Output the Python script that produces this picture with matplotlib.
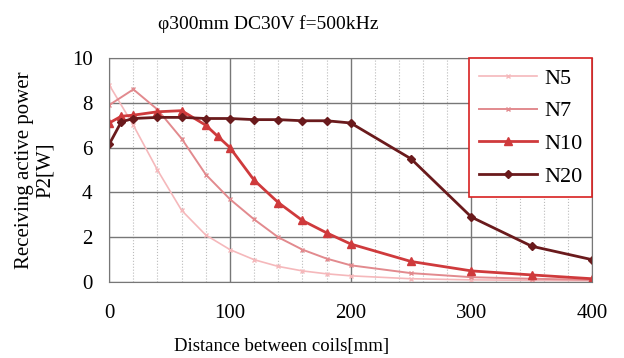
import numpy as np
import matplotlib
matplotlib.use("Agg")
import matplotlib.pyplot as plt

plt.rcParams["font.family"] = ["Liberation Serif", "DejaVu Serif"]

# Distance [mm] and received power P2 [W] for each coil turn count
x_n5 = [0, 20, 40, 60, 80, 100, 120, 140, 160, 180, 200, 250, 300, 350, 400]
p_n5 = [8.8, 7.0, 5.0, 3.2, 2.1, 1.45, 1.0, 0.7, 0.5, 0.37, 0.28, 0.15, 0.1, 0.08, 0.06]

x_n7 = [0, 20, 40, 60, 80, 100, 120, 140, 160, 180, 200, 250, 300, 350, 400]
p_n7 = [7.9, 8.6, 7.7, 6.4, 4.8, 3.7, 2.8, 2.0, 1.45, 1.05, 0.75, 0.4, 0.22, 0.15, 0.1]

x_n10 = [0, 10, 20, 40, 60, 80, 90, 100, 120, 140, 160, 180, 200, 250, 300, 350, 400]
p_n10 = [7.1, 7.4, 7.45, 7.6, 7.65, 7.0, 6.5, 6.0, 4.55, 3.55, 2.75, 2.2, 1.7, 0.92, 0.5, 0.32, 0.15]

x_n20 = [0, 10, 20, 40, 60, 80, 100, 120, 140, 160, 180, 200, 250, 300, 350, 400]
p_n20 = [6.15, 7.15, 7.3, 7.35, 7.35, 7.3, 7.3, 7.25, 7.25, 7.2, 7.2, 7.1, 5.5, 2.9, 1.6, 1.0]

fig = plt.figure(figsize=(6.24, 3.58), dpi=100)
ax = fig.add_axes([0.175, 0.212, 0.774, 0.626])

ax.plot(x_n5, p_n5, color="#f5b8bb", lw=1.2, marker="x", ms=2.5, label="N5")
ax.plot(x_n7, p_n7, color="#e28a8e", lw=1.4, marker="x", ms=2.5, label="N7")
ax.plot(x_n10, p_n10, color="#cf3a3c", lw=2.0, marker="^", ms=6, label="N10")
ax.plot(x_n20, p_n20, color="#6a1a1c", lw=2.0, marker="D", ms=4, label="N20")

ax.set_xlim(0, 400)
ax.set_ylim(0, 10)
ax.set_xticks(range(0, 401, 100))
ax.set_xticks(range(0, 401, 20), minor=True)
ax.set_yticks(range(0, 11, 2))
ax.grid(which="major", color="#777777", lw=1.0)
ax.grid(which="minor", axis="x", color="#bbbbbb", lw=0.8, ls=":")
ax.tick_params(which="both", length=0, labelsize=15)
ax.tick_params(axis="x", pad=16)
ax.tick_params(axis="y", pad=12)
for s in ax.spines.values():
    s.set_color("#777777")

ax.set_title("\u03c6300mm DC30V f=500kHz", fontsize=14, x=0.33, y=1.0, pad=21)
ax.set_xlabel("Distance between coils[mm]", fontsize=13.5)
ax.xaxis.set_label_coords(0.356, -0.25)
ax.set_ylabel("Receiving active power\nP2[W]", fontsize=15, linespacing=1.15)
ax.yaxis.set_label_coords(-0.112, 0.5)

leg = ax.legend(loc="upper right", fontsize=16, frameon=True, fancybox=False,
                edgecolor="#d82020", framealpha=1, handlelength=2.6,
                borderaxespad=0, labelspacing=0.55, handletextpad=0.3,
                borderpad=0.45)
leg.get_frame().set_linewidth(1.2)

fig.savefig("out.png", dpi=100)
